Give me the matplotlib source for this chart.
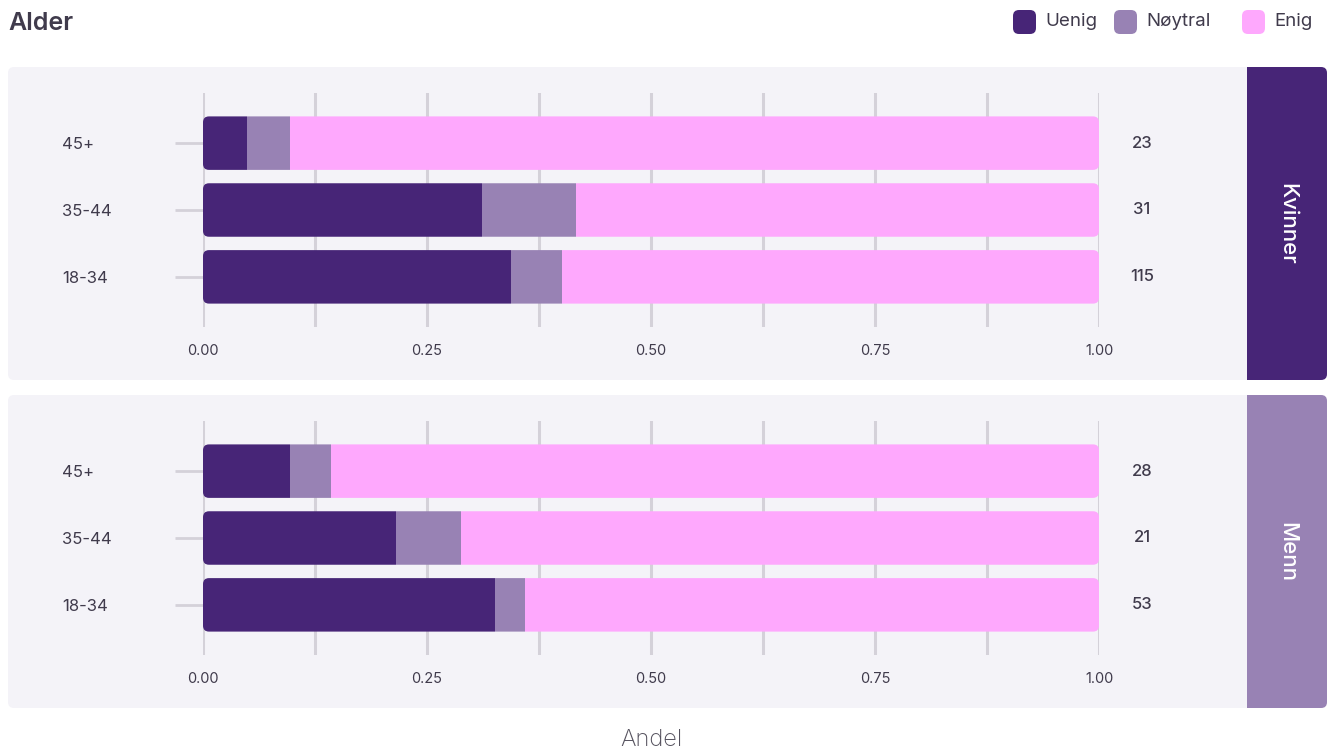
import matplotlib
matplotlib.use("Agg")
import matplotlib.pyplot as plt
from matplotlib.patches import FancyBboxPatch, Rectangle
import numpy as np

plt.rcParams['font.family'] = ['Inter', 'DejaVu Sans']

# ---------------- data ----------------
title = "Alder"
categories = ["Uenig", "Nøytral", "Enig"]
ages = ["45+", "35-44", "18-34"]
groups = ["Kvinner", "Menn"]

kvinner_uenig = [0.049, 0.311, 0.344]
kvinner_noytral = [0.048, 0.105, 0.057]
kvinner_enig = [0.903, 0.584, 0.599]
kvinner_n = [23, 31, 115]

menn_uenig = [0.097, 0.215, 0.326]
menn_noytral = [0.046, 0.073, 0.033]
menn_enig = [0.857, 0.712, 0.641]
menn_n = [28, 21, 53]

xticks = [0.0, 0.25, 0.5, 0.75, 1.0]
xticklabels = ["0.00", "0.25", "0.50", "0.75", "1.00"]
xlabel = "Andel"

# ---------------- style ----------------
cat_colors = ["#472577", "#9882b4", "#fea8fd"]
strip_colors = ["#472577", "#9882b4"]
panel_bg = "#f4f3f8"
grid_col = "#d4d1d9"
text_col = "#403b4c"

W, H = 1331, 756
fig = plt.figure(figsize=(W / 100, H / 100), dpi=100)
fig.patch.set_facecolor("white")

# background axes in pixel coordinates
bg = fig.add_axes([0, 0, 1, 1])
bg.set_xlim(0, W)
bg.set_ylim(H, 0)
bg.axis("off")

bg.text(8, 23, title, fontsize=18, fontweight="semibold", color=text_col,
        ha="left", va="center")

# legend
leg_x = [1013, 1114, 1242]
for lx, lab, col in zip(leg_x, categories, cat_colors):
    bg.add_patch(FancyBboxPatch((lx, 10), 23, 24,
                                boxstyle="round,pad=0,rounding_size=6",
                                facecolor=col, edgecolor="none"))
    bg.text(lx + 32, 22, lab, fontsize=13.5, color=text_col, ha="left", va="center")

panel_tops = [67, 395]
panel_h = 313
strip_x0, strip_x1 = 1247, 1327

for gi, top in enumerate(panel_tops):
    bg.add_patch(FancyBboxPatch((8, top), strip_x1 - 8, panel_h,
                                boxstyle="round,pad=0,rounding_size=6",
                                facecolor=panel_bg, edgecolor="none"))
    bg.add_patch(FancyBboxPatch((strip_x0, top), strip_x1 - strip_x0, panel_h,
                                boxstyle="round,pad=0,rounding_size=6",
                                facecolor=strip_colors[gi], edgecolor="none"))
    bg.add_patch(Rectangle((strip_x0, top), 12, panel_h,
                           facecolor=strip_colors[gi], edgecolor="none"))
    bg.text((strip_x0 + strip_x1) / 2, top + panel_h / 2, groups[gi],
            rotation=-90, fontsize=16, color="white", ha="center", va="center",
            fontweight="medium")

data = [
    (kvinner_uenig, kvinner_noytral, kvinner_enig, kvinner_n),
    (menn_uenig, menn_noytral, menn_enig, menn_n),
]

ax_left, ax_right = 203, 1099
ax_tops = [93, 421]
ax_h = 234
ylo, yhi = -0.75, 2.75
bar_h = 0.8

for gi, (u, nt, e, n) in enumerate(data):
    top = ax_tops[gi]
    ax = fig.add_axes([ax_left / W, 1 - (top + ax_h) / H,
                       (ax_right - ax_left) / W, ax_h / H])
    ax.set_facecolor("none")
    ax.set_xlim(0, 1)
    ax.set_ylim(yhi, ylo)
    for s in ax.spines.values():
        s.set_visible(False)

    # grid
    ax.set_xticks(xticks)
    ax.set_xticks(np.arange(0.125, 1.0, 0.25), minor=True)
    ax.grid(True, axis="x", which="both", color=grid_col, linewidth=2.2, zorder=0)
    ax.set_axisbelow(True)
    ax.set_xticklabels(xticklabels)
    ax.tick_params(axis="x", which="both", length=0, pad=12.5, labelsize=10.5,
                   labelcolor=text_col)

    y = np.arange(len(ages))
    ax.set_yticks(y)
    ax.set_yticklabels(ages)
    ax.tick_params(axis="y", length=20, width=2, color=grid_col, pad=81.5,
                   labelsize=12, labelcolor=text_col)
    for lbl in ax.get_yticklabels():
        lbl.set_horizontalalignment("left")

    # aspect for rounded corners
    px_per_x = (ax_right - ax_left) / 1.0
    px_per_y = ax_h / (yhi - ylo)
    asp = px_per_x / px_per_y
    r = 6 / px_per_x

    left = np.zeros(len(ages))
    series = [u, nt, e]
    bar_groups = []
    for vals, col in zip(series, cat_colors):
        bars = ax.barh(y, vals, left=left, height=bar_h, color=col,
                       edgecolor="none", zorder=2)
        bar_groups.append(bars)
        left = left + np.array(vals)

    for i in range(len(ages)):
        clip = FancyBboxPatch((0, y[i] - bar_h / 2), left[i], bar_h,
                              boxstyle=f"round,pad=0,rounding_size={r}",
                              mutation_aspect=asp, transform=ax.transData,
                              facecolor="none", edgecolor="none")
        for bars in bar_groups:
            bars[i].set_clip_path(clip)

    for i in range(len(ages)):
        ax.text(1.048, y[i], str(n[i]), ha="center", va="center",
                fontsize=12, fontweight="medium", color=text_col, clip_on=False)

    if gi == 1:
        ax.set_xlabel(xlabel, fontsize=17, fontweight="light", color="#55525e",
                      labelpad=31)

fig.savefig("out.png", dpi=100, facecolor="white")
